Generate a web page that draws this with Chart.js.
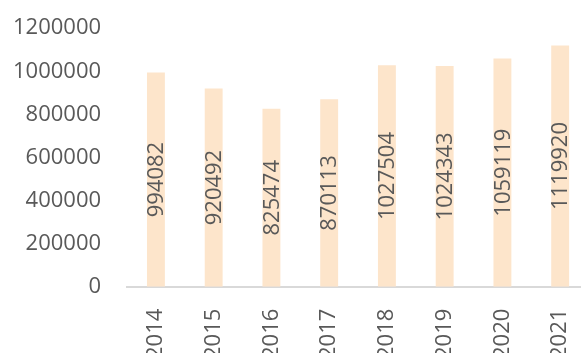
<!DOCTYPE html>
<html>
<head>
<meta charset="utf-8">
<script src="https://cdn.jsdelivr.net/npm/chart.js@4/dist/chart.umd.min.js"></script>
<style>
  html, body { margin: 0; padding: 0; background: #fff; overflow: hidden; }
  #wrap { position: absolute; left: -26px; top: -11px; width: 635px; height: 392px; }
</style>
</head>
<body>
<div id="wrap"><canvas id="yearChart" width="635" height="392"></canvas></div>
<script>
// Yearly totals
const years = ["2014", "2015", "2016", "2017", "2018", "2019", "2020", "2021"];
const totals = [994082, 920492, 825474, 870113, 1027504, 1024343, 1059119, 1119920];

const textColor = '#595959';
const fontFamily = '"Open Sans", "Noto Sans", sans-serif';
const fontSize = 22;

// Value written vertically in the middle of each bar
const barLabels = {
    id: 'barLabels',
    afterDatasetsDraw(chart) {
        const ctx = chart.ctx;
        const meta = chart.getDatasetMeta(0);
        ctx.save();
        ctx.fillStyle = textColor;
        ctx.font = fontSize + 'px ' + fontFamily;
        ctx.textAlign = 'center';
        ctx.textBaseline = 'middle';
        meta.data.forEach((bar, i) => {
            const midY = (bar.y + bar.base) / 2;
            ctx.save();
            ctx.translate(bar.x, midY);
            ctx.rotate(-Math.PI / 2);
            ctx.fillText(String(chart.data.datasets[0].data[i]), 0, 1);
            ctx.restore();
        });
        ctx.restore();
    }
};

const ctx = document.getElementById("yearChart").getContext("2d");
new Chart(ctx, {
    type: 'bar',
    data: {
        labels: years,
        datasets: [{
            data: totals,
            backgroundColor: '#FDE5CB',
            borderWidth: 0,
            categoryPercentage: 1,
            barPercentage: 0.31
        }]
    },
    options: {
        responsive: false,
        animation: false,
        layout: { padding: { top: 0, right: 7, left: 13, bottom: 0 } },
        scales: {
            x: {
                grid: { display: false, drawTicks: false },
                border: { display: true, color: '#D9D9D9', width: 2 },
                ticks: {
                    color: textColor,
                    font: { family: fontFamily, size: fontSize },
                    minRotation: 90,
                    maxRotation: 90,
                    padding: 22
                }
            },
            y: {
                min: 0,
                max: 1200000,
                grid: { display: false, drawTicks: false },
                border: { display: false },
                ticks: {
                    stepSize: 200000,
                    color: textColor,
                    font: { family: fontFamily, size: fontSize },
                    padding: 26,
                    callback: v => String(v)
                }
            }
        },
        plugins: {
            legend: { display: false },
            tooltip: { enabled: false }
        }
    },
    plugins: [barLabels]
});
</script>
</body>
</html>
